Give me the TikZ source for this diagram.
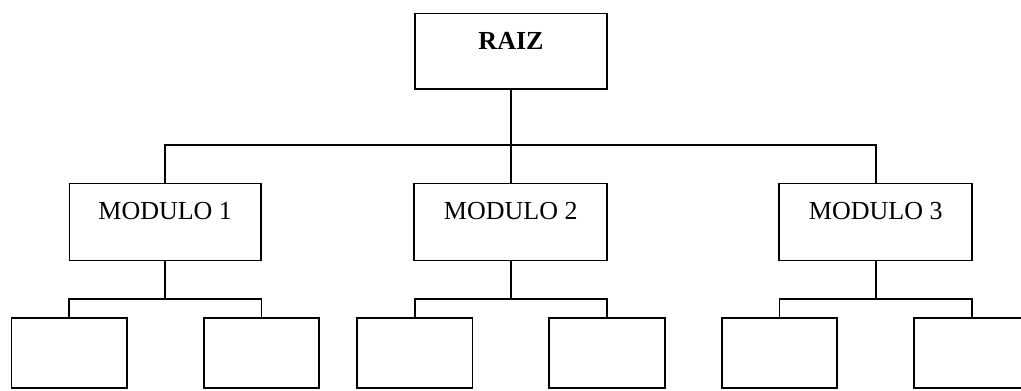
\documentclass[tikz,border=0pt]{standalone}
\usepackage{fontspec}
\setmainfont{Liberation Serif}
\begin{document}
\begin{tikzpicture}[x=0.02cm,y=-0.02cm,
  line width=1pt,
  labelbox/.style={draw, line width=1pt, inner sep=0pt, minimum width=3.86cm,
    text height=20.4pt, text depth=23.3pt, font=\fontsize{14.8}{17}\selectfont},
  leafbox/.style={draw, line width=1pt, inner sep=0pt, minimum width=2.31cm, minimum height=1.39cm}]
\useasboundingbox (0,0) rectangle (1021,390);
\node[labelbox, minimum width=3.85cm, text depth=22.6pt] (R) at (511,51.3) {\textbf{RAIZ}};
\node[labelbox, minimum width=3.83cm] (M1) at (165.2,222) {MODULO 1};
\node[labelbox] (M2) at (510.8,222) {MODULO 2};
\node[labelbox] (M3) at (875.8,222) {MODULO 3};
\node[leafbox] (L1) at (69.3,353) {};
\node[leafbox] (L2) at (261.5,353) {};
\node[leafbox] (L3) at (414.7,353) {};
\node[leafbox] (L4) at (607,353) {};
\node[leafbox] (L5) at (779.5,353) {};
\node[leafbox] (L6) at (972,353) {};
% top level
\draw (R.south) -- (R.south |- 0,145);
\draw (M1.north) |- (M3.north |- 0,145) -- (M3.north);
\draw (M2.north) -- (M2.north |- 0,145);
% module 1
\draw (M1.south) -- (M1.south |- 0,299.3);
\draw (L1.north) |- (L2.north |- 0,299.3) -- (L2.north);
% module 2
\draw (M2.south) -- (M2.south |- 0,299.3);
\draw (L3.north) |- (L4.north |- 0,299.3) -- (L4.north);
% module 3
\draw (M3.south) -- (M3.south |- 0,299.3);
\draw (L5.north) |- (L6.north |- 0,299.3) -- (L6.north);
\end{tikzpicture}
\end{document}
